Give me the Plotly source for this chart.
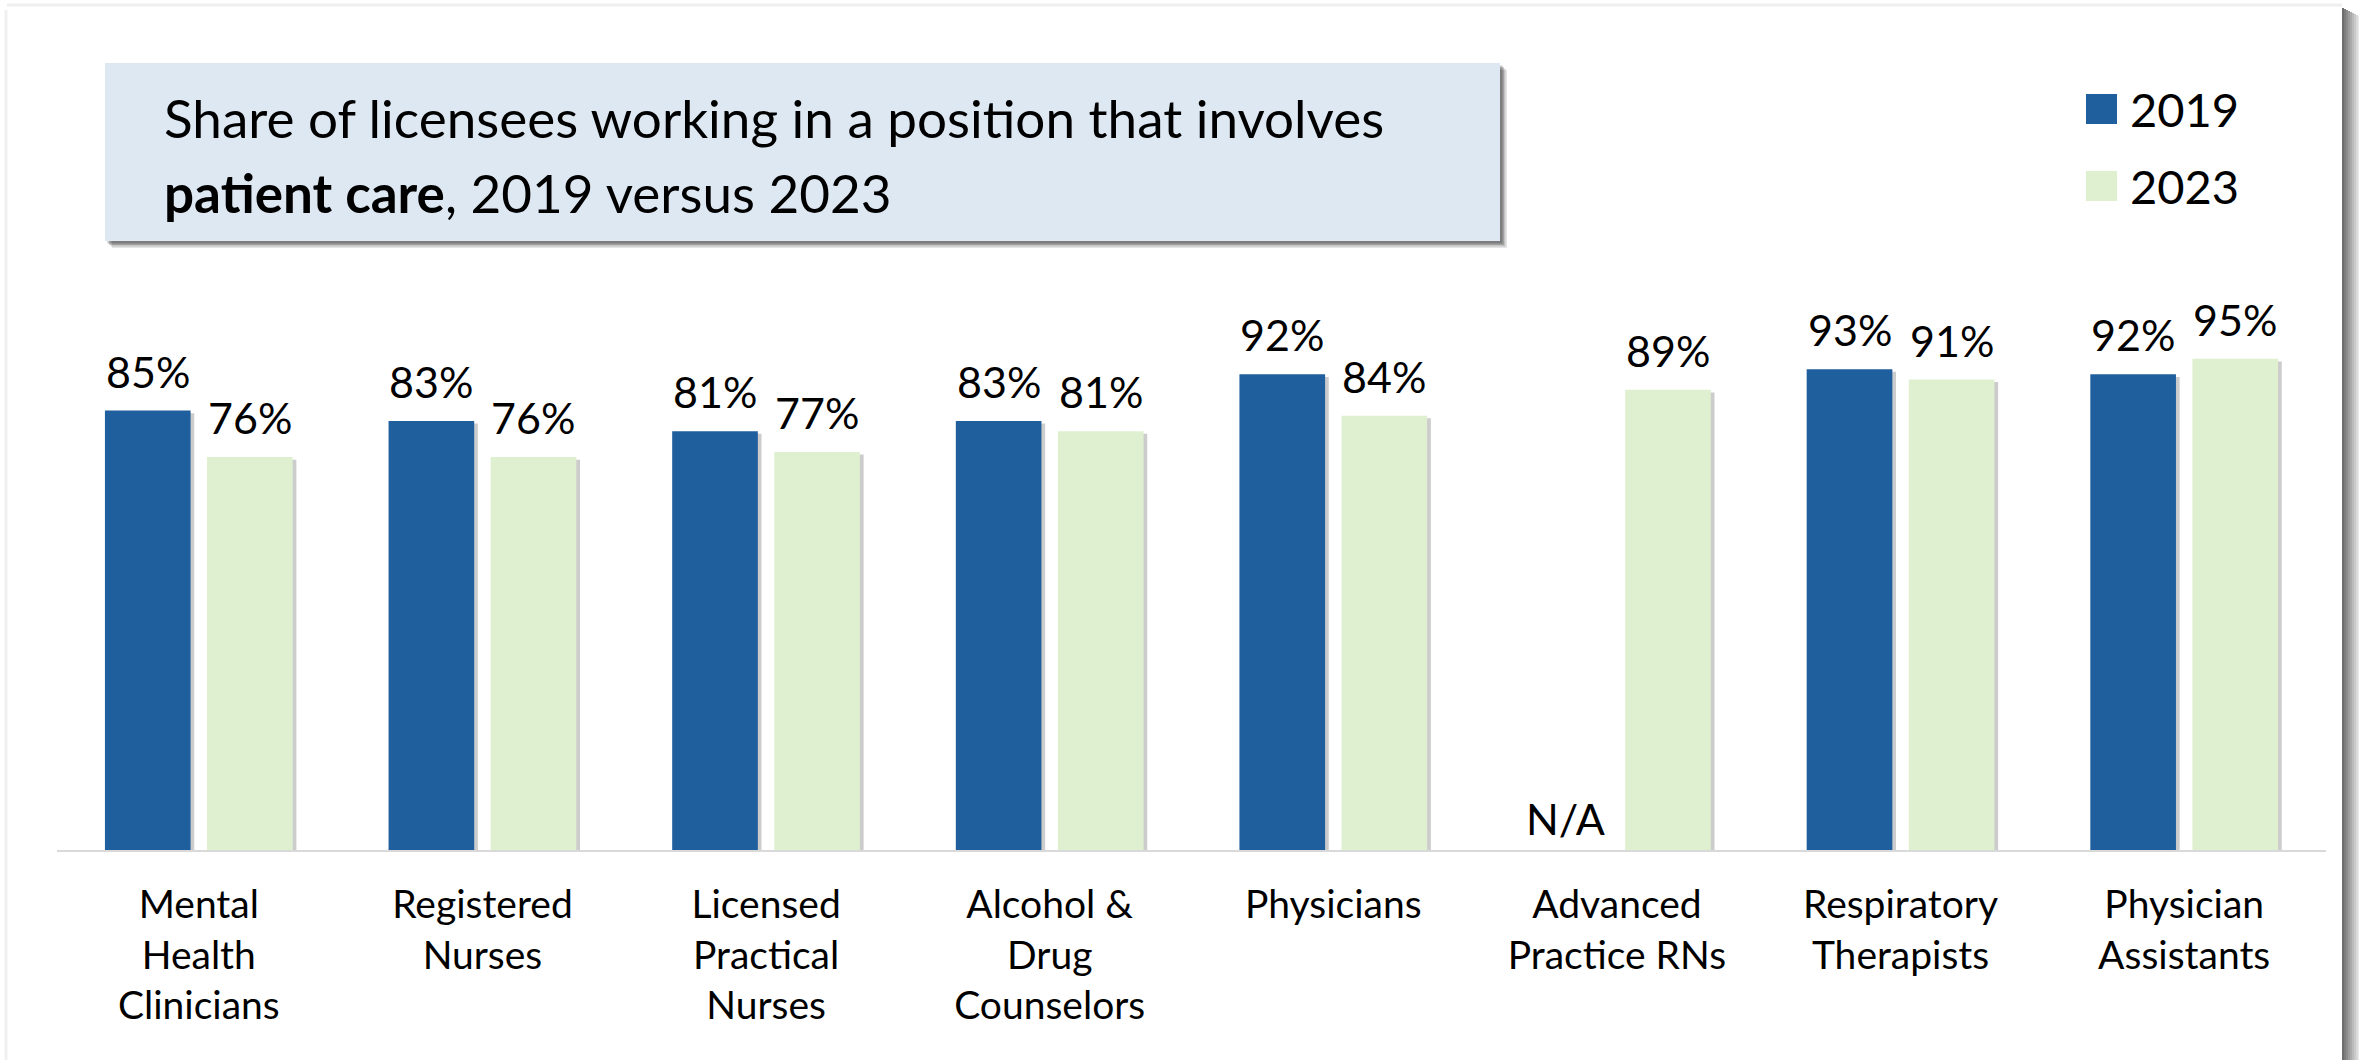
import plotly.graph_objects as go

# ---------------- data ----------------
categories = ["Mental<br>Health<br>Clinicians", "Registered<br>Nurses",
              "Licensed<br>Practical<br>Nurses", "Alcohol &<br>Drug<br>Counselors",
              "Physicians", "Advanced<br>Practice RNs", "Respiratory<br>Therapists",
              "Physician<br>Assistants"]
values_2019 = [85, 83, 81, 83, 92, None, 93, 92]
values_2023 = [76, 76, 77, 81, 84, 89, 91, 95]
series_names = ["2019", "2023"]
title_line1 = "Share of licensees working in a position that involves"
title_line2 = "<b>patient care</b>, 2019 versus 2023"
na_text = "N/A"

# ---------------- styling ----------------
FONT = "Lato, Carlito, Calibri, 'Open Sans', sans-serif"
C2019 = "#205f9e"
C2023 = "#dff0d0"
BOX = "#dee8f3"
W, H = 2359, 1060
ML, MR, MT, MB = 57, 33, 333, 210
PW, PH = W - ML - MR, H - MT - MB

def xp(x):
    return (x - ML) / PW

def yp(y):
    return (H - MB - y) / PH

bar_w = 0.302
offsets = [-0.331, 0.029]
xs = list(range(len(categories)))

fig = go.Figure()

series = [values_2019, values_2023]
colors = [C2019, C2023]

# shadows
for vals, off in zip(series, offsets):
    fig.add_trace(go.Bar(
        x=xs, y=[None if v is None else v + 0.2 for v in vals], base=-0.7,
        offset=off + 0.013, width=bar_w, marker=dict(color="rgba(0,0,0,0.20)", line=dict(width=0)),
        showlegend=False, hoverinfo="skip", cliponaxis=False))

for vals, off, col, name in zip(series, offsets, colors, series_names):
    fig.add_trace(go.Bar(
        x=xs, y=vals, offset=off, width=bar_w, name=name,
        marker=dict(color=col, line=dict(width=0)), showlegend=False, cliponaxis=False))

annotations = []
for vals, off in zip(series, offsets):
    for i, v in zip(xs, vals):
        if v is None:
            annotations.append(dict(x=i + off + bar_w / 2, y=0, xref="x", yref="y",
                                    text=na_text, showarrow=False, yanchor="bottom",
                                    yshift=4, font=dict(family=FONT, size=43, color="black")))
        else:
            annotations.append(dict(x=i + off + bar_w / 2, y=v, xref="x", yref="y",
                                    text=f"{v}%", showarrow=False, yanchor="bottom",
                                    yshift=12, font=dict(family=FONT, size=43, color="black")))

# title text
annotations.append(dict(x=xp(162), y=yp(117), xref="paper", yref="paper", text=title_line1,
                        showarrow=False, xanchor="left", yanchor="middle",
                        font=dict(family=FONT, size=53, color="black")))
annotations.append(dict(x=xp(162), y=yp(193), xref="paper", yref="paper", text=title_line2,
                        showarrow=False, xanchor="left", yanchor="middle",
                        font=dict(family=FONT, size=53, color="black")))

# custom legend
leg_rows = [(109, C2019, series_names[0]), (186, C2023, series_names[1])]
shapes = []
for yc, col, name in leg_rows:
    shapes.append(dict(type="rect", xref="paper", yref="paper",
                       x0=xp(2086), x1=xp(2117), y0=yp(yc - 15), y1=yp(yc + 15),
                       fillcolor=col, line=dict(width=0)))
    annotations.append(dict(x=xp(2128), y=yp(yc), xref="paper", yref="paper", text=name,
                            showarrow=False, xanchor="left", yanchor="middle",
                            font=dict(family=FONT, size=47, color="black")))

# title box with shadow
for k, a in enumerate([0.10, 0.14, 0.18, 0.22]):
    d = 7 - k * 1.5
    shapes.append(dict(type="rect", xref="paper", yref="paper",
                       x0=xp(105 + d), x1=xp(1500 + d), y0=yp(241 + d), y1=yp(63 + d),
                       fillcolor=f"rgba(0,0,0,{a})", line=dict(width=0), layer="below"))
shapes.append(dict(type="rect", xref="paper", yref="paper",
                   x0=xp(105), x1=xp(1500), y0=yp(241), y1=yp(63),
                   fillcolor=BOX, line=dict(width=0), layer="below"))

# panel frame: faint top/left edges, shadow on the right
shapes.append(dict(type="line", xref="paper", yref="paper", x0=xp(7), x1=xp(2342),
                   y0=yp(5), y1=yp(5), line=dict(color="#efefef", width=3)))
shapes.append(dict(type="line", xref="paper", yref="paper", x0=xp(6), x1=xp(6),
                   y0=yp(10), y1=yp(1060), line=dict(color="#f0f0f0", width=3)))
for k in range(9):
    a = 0.75 - k * 0.08
    shapes.append(dict(type="rect", xref="paper", yref="paper",
                       x0=xp(2342 + k * 2), x1=xp(2344 + k * 2), y0=yp(1060), y1=yp(8 + k),
                       fillcolor=f"rgba(60,60,60,{max(a,0.05)})", line=dict(width=0)))

fig.update_layout(
    width=W, height=H, autosize=False,
    margin=dict(l=ML, r=MR, t=MT, b=MB),
    paper_bgcolor="white", plot_bgcolor="white",
    barmode="overlay",
    showlegend=False,
    font=dict(family=FONT, color="black"),
    annotations=annotations, shapes=shapes,
    xaxis=dict(range=[-0.5, 7.5], tickmode="array", tickvals=xs, ticktext=categories,
               showgrid=False, zeroline=False, showline=True, linecolor="#d9d9d9", linewidth=2,
               ticks="", tickfont=dict(family=FONT, size=39, color="black"),
               ticklabelstandoff=19, fixedrange=True),
    yaxis=dict(range=[0, 100], visible=False, showgrid=False, zeroline=False, fixedrange=True),
)

fig.write_html("out.html")
